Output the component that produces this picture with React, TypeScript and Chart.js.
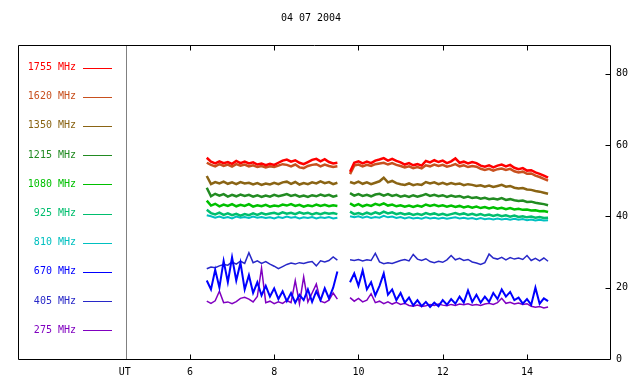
import { useEffect, useRef } from 'react';
import { Chart, registerables } from 'chart.js';

Chart.register(...registerables);

const TITLE = '04 07 2004';
const X_MIN = 1.92;
const X_MAX = 15.97;
const Y_MIN = 0;
const Y_MAX = 88;
const UT_POS = 4.48;
const X_TICKS = [6, 8, 10, 12, 14];
const Y_TICKS = [0, 20, 40, 60, 80];

const times = [
  6.4, 6.5, 6.6, 6.7, 6.8, 6.9, 7.0, 7.1, 7.2, 7.3, 7.4, 7.5, 7.6, 7.7, 7.8, 7.9,
  8.0, 8.1, 8.2, 8.3, 8.4, 8.5, 8.6, 8.7, 8.8, 8.9, 9.0, 9.1, 9.2, 9.3, 9.4, 9.5,
  9.65,
  9.8, 9.9, 10.0, 10.1, 10.2, 10.3, 10.4, 10.5, 10.6, 10.7, 10.8, 10.9,
  11.0, 11.1, 11.2, 11.3, 11.4, 11.5, 11.6, 11.7, 11.8, 11.9,
  12.0, 12.1, 12.2, 12.3, 12.4, 12.5, 12.6, 12.7, 12.8, 12.9,
  13.0, 13.1, 13.2, 13.3, 13.4, 13.5, 13.6, 13.7, 13.8, 13.9,
  14.0, 14.1, 14.2, 14.3, 14.4, 14.5,
];

const labels = ['1755 MHz', '1620 MHz', '1350 MHz', '1215 MHz', '1080 MHz', '925 MHz', '810 MHz', '670 MHz', '405 MHz', '275 MHz'];
const colors = ['#ff0000', '#c8501e', '#8a6414', '#228b22', '#00c000', '#00be6e', '#00c0c0', '#0000ff', '#2828c8', '#8000c0'];

const f1755 = [
  56.4, 55.3, 54.8, 55.4, 54.9, 55.2, 54.7, 55.5, 54.9, 55.3, 54.8, 55.1, 54.5, 54.8, 54.3, 54.7,
  54.4, 55.0, 55.6, 55.9, 55.3, 55.7, 55.0, 54.6, 55.2, 55.8, 56.1, 55.4, 56.0, 55.2, 54.8, 55.0,
  null,
  52.5, 55.0, 55.4, 54.8, 55.3, 54.9, 55.6, 55.9, 56.3, 55.6, 56.1, 55.5,
  55.1, 54.5, 54.9, 54.3, 54.6, 54.2, 55.5, 55.1, 55.7, 55.2,
  55.6, 54.9, 55.4, 56.2, 55.0, 55.3, 54.8, 55.2, 54.9, 54.2,
  53.9, 54.3, 53.7, 54.2, 54.5, 54.0, 54.4, 53.6, 53.2, 53.5,
  52.8, 52.9, 52.3, 51.9, 51.4, 50.8,
];
const f1620 = [
  55.0, 54.4, 54.0, 54.6, 54.1, 54.5, 53.9, 54.6, 54.2, 54.5, 54.0, 54.3, 53.8, 54.1, 53.7, 54.0,
  53.8, 54.2, 54.6, 54.4, 54.0, 54.5, 53.7, 53.5, 54.1, 54.4, 54.6, 54.0, 54.5, 54.1, 53.8, 54.0,
  null,
  51.8, 54.2, 54.5, 54.0, 54.4, 54.1, 54.6, 54.8, 55.0, 54.5, 54.9, 54.4,
  54.1, 53.7, 54.0, 53.5, 53.8, 53.4, 54.3, 54.0, 54.5, 54.1,
  54.4, 53.9, 54.2, 54.6, 54.0, 54.3, 53.8, 54.1, 53.9, 53.3,
  53.0, 53.3, 52.8, 53.2, 53.4, 53.0, 53.3, 52.6, 52.3, 52.5,
  51.9, 52.0, 51.4, 51.0, 50.5, 50.0,
];
const f1350 = [
  51.3, 49.0, 49.6, 49.2, 49.7, 49.1, 49.5, 49.0, 49.6, 49.2, 49.4, 48.9, 49.3, 48.8, 49.2, 48.9,
  49.4, 49.0, 49.5, 49.7, 49.1, 49.6, 48.9, 49.3, 49.0, 49.5, 49.2, 49.8, 49.3, 49.6, 49.0, 49.4,
  null,
  49.6, 49.2, 49.7, 49.1, 49.5, 49.0, 49.4, 49.8, 50.8, 49.5, 49.9, 49.3,
  49.0, 48.8, 49.2, 48.7, 49.0, 48.8, 49.6, 49.2, 49.5, 49.0,
  49.4, 48.9, 49.3, 49.0, 49.2, 48.7, 49.0, 48.8, 48.5, 48.7,
  48.3, 48.6, 48.2, 48.5, 48.8, 48.3, 48.5, 48.0, 47.8, 47.9,
  47.5, 47.4, 47.1, 46.9, 46.6, 46.3,
];
const f1215 = [
  48.0, 45.6, 46.3, 45.8, 46.2, 45.5, 46.0, 45.6, 46.1, 45.7, 46.0, 45.5, 45.9, 45.4, 45.8, 45.5,
  46.0, 45.6, 45.9, 46.2, 45.7, 46.0, 45.5, 45.8, 45.4, 45.9, 45.6, 46.1, 45.7, 46.0, 45.5, 45.8,
  null,
  46.5, 45.8, 46.2, 45.7, 46.0, 45.6, 46.1, 46.3, 45.8, 46.2, 45.7, 46.0,
  45.5, 45.8, 45.4, 45.9, 45.5, 45.8, 46.2, 45.7, 46.0, 45.6,
  45.9, 45.4, 45.8, 45.5, 45.7, 45.2, 45.5, 45.1, 45.3, 44.9,
  45.2, 44.8, 45.0, 44.7, 45.1, 44.6, 44.8, 44.5, 44.3, 44.4,
  44.0, 44.1, 43.8, 43.6, 43.4, 43.1,
];
const f1080 = [
  44.4, 43.0, 43.5, 42.8, 43.3, 42.9, 43.4, 42.8, 43.2, 42.9, 43.4, 42.7, 43.1, 42.8, 43.2, 42.7,
  43.0, 42.8, 43.3, 43.0, 43.4, 42.9, 43.2, 42.7, 43.1, 42.8, 43.3, 42.9, 43.2, 42.8, 43.1, 42.9,
  null,
  43.6, 42.9, 43.4, 42.8, 43.2, 42.9, 43.5, 43.1, 43.6, 43.0, 43.3, 42.8,
  43.1, 42.7, 43.0, 42.6, 43.0, 42.7, 43.3, 42.9, 43.2, 42.8,
  43.1, 42.7, 43.0, 42.6, 42.9, 42.5, 42.8, 42.4, 42.7, 42.3,
  42.6, 42.2, 42.5, 42.1, 42.4, 42.0, 42.3, 41.9, 42.1, 41.8,
  41.9, 41.6, 41.7, 41.4, 41.5, 41.2,
];
const f925 = [
  41.8, 40.9, 40.5, 41.0, 40.4, 40.8, 40.3, 40.7, 40.2, 40.6, 40.3, 40.8, 40.4, 40.9, 40.5, 40.8,
  41.0, 40.6, 41.1, 40.7, 41.0, 40.6, 41.1, 40.7, 41.0, 40.5, 40.9, 40.6, 41.0, 40.7, 40.9, 40.6,
  null,
  41.3, 40.6, 40.9, 40.5, 41.0, 40.6, 41.1, 40.7, 41.3, 40.8, 41.1, 40.6,
  40.9, 40.5, 40.8, 40.4, 40.7, 40.4, 40.9, 40.5, 40.8, 40.4,
  40.7, 40.3, 40.6, 40.9, 40.5, 40.8, 40.4, 40.7, 40.3, 40.6,
  40.2, 40.5, 40.1, 40.4, 40.0, 40.3, 39.9, 40.2, 39.8, 40.0,
  39.7, 39.9, 39.6, 39.8, 39.5, 39.6,
];
const f810 = [
  40.3, 40.0, 39.6, 39.9, 39.5, 39.8, 39.4, 39.9, 39.6, 39.8, 39.5, 39.9, 39.6, 39.8, 39.5, 39.7,
  39.4, 39.8, 39.5, 39.9, 39.6, 39.8, 39.4, 39.7, 39.5, 39.8, 39.4, 39.7, 39.5, 39.8, 39.4, 39.6,
  null,
  40.0, 39.7, 40.0, 39.6, 39.9, 39.5, 39.8, 39.6, 40.1, 39.7, 39.9, 39.5,
  39.8, 39.4, 39.7, 39.4, 39.6, 39.3, 39.7, 39.4, 39.6, 39.3,
  39.6, 39.3, 39.5, 39.7, 39.4, 39.6, 39.3, 39.5, 39.2, 39.5,
  39.2, 39.4, 39.1, 39.4, 39.1, 39.3, 39.0, 39.3, 39.0, 39.2,
  38.9, 39.1, 38.8, 39.0, 38.8, 38.9,
];
const f670 = [
  22.0, 19.5, 25.0, 20.0, 27.5, 21.5, 28.5, 22.0, 27.0, 19.5, 23.5, 18.5, 21.5, 17.8, 20.5, 17.5,
  19.8, 16.8, 19.0, 16.2, 18.5, 15.8, 18.0, 16.5, 19.5, 16.0, 19.0, 16.5, 19.8, 17.0, 20.0, 24.5,
  null,
  21.5, 24.0, 20.5, 24.8, 19.5, 21.5, 17.8, 20.5, 24.0, 18.0, 19.5, 16.5,
  18.5, 15.8, 17.2, 15.0, 16.5, 14.8, 16.0, 14.6, 15.8, 14.8,
  16.5, 15.2, 16.8, 15.5, 17.5, 15.8, 19.2, 16.0, 18.0, 15.8,
  17.5, 16.0, 18.5, 16.8, 19.5, 17.5, 18.8, 16.5, 17.2, 15.5,
  16.8, 15.2, 20.0, 15.5, 17.0, 16.2,
];
const f405 = [
  25.3, 25.8, 25.6, 26.1, 26.5, 26.3, 27.2, 26.6, 27.4, 26.8, 29.8, 27.0, 27.5, 26.8, 27.3, 26.6,
  26.0, 25.3, 25.9, 26.5, 26.9, 26.6, 27.0, 26.8, 27.1, 27.3, 26.1, 27.5, 27.2, 27.6, 28.6, 27.7,
  null,
  27.8, 27.6, 27.9, 27.5, 27.8, 27.6, 29.6, 27.2, 26.7, 27.0, 26.8, 27.2,
  27.6, 27.9, 27.5, 29.3, 28.0, 27.6, 28.1, 27.3, 27.0, 27.4,
  27.1, 27.8, 29.0, 27.8, 28.2, 27.6, 27.9, 27.2, 26.9, 26.5,
  27.0, 29.4, 28.3, 28.0, 28.5, 27.8, 28.4, 28.0, 28.3, 27.9,
  29.0, 27.6, 28.2, 27.5, 28.3, 27.4,
];
const f275 = [
  16.2, 15.6, 16.3, 19.0, 15.8, 16.0, 15.5, 16.1, 17.0, 17.3, 16.8, 16.0, 17.5, 25.5, 15.8, 16.2,
  15.5, 16.0, 15.6, 16.4, 15.8, 22.0, 15.5, 23.0, 16.0, 18.5, 21.0, 16.2, 15.8, 16.5, 18.5, 16.8,
  null,
  17.2, 16.2, 17.0, 16.0, 16.5, 18.3, 15.8, 16.2, 15.5, 16.0, 15.4, 15.9,
  15.3, 15.6, 15.0, 14.8, 15.1, 14.7, 14.9, 15.3, 15.0, 15.4,
  15.1, 14.9, 15.3, 15.0, 15.4, 15.2, 15.5, 15.1, 15.3, 15.0,
  15.4, 15.6, 15.3, 15.8, 17.0, 15.6, 15.9, 15.4, 15.7, 15.3,
  15.5, 14.8, 14.5, 14.7, 14.3, 14.6,
];

const seriesList = [f1755, f1620, f1350, f1215, f1080, f925, f810, f670, f405, f275];
const lineWidths = [2.5, 2.5, 2.5, 2.5, 2.5, 2.5, 2, 2, 1.5, 1.5];

const FONT = '10px "DejaVu Sans Mono", monospace';

const decorPlugin = {
  id: 'rstnDecor',
  beforeDatasetsDraw(chart: any) {
    const { ctx, chartArea, scales } = chart;
    const x = scales.x;
    const ux = Math.round(x.getPixelForValue(UT_POS)) + 0.5;
    ctx.save();
    ctx.strokeStyle = '#808080';
    ctx.lineWidth = 1;
    ctx.beginPath();
    ctx.moveTo(ux, chartArea.top);
    ctx.lineTo(ux, chartArea.bottom);
    ctx.stroke();
    ctx.restore();
  },
  afterDatasetsDraw(chart: any) {
    const { ctx, chartArea, scales } = chart;
    const { left, right, top, bottom } = chartArea;
    const x = scales.x;
    const y = scales.y;
    const L = Math.round(left) + 0.5;
    const R = Math.round(right) + 0.5;
    const T = Math.round(top) + 0.5;
    const B = Math.round(bottom) + 0.5;
    ctx.save();
    ctx.strokeStyle = '#000000';
    ctx.lineWidth = 1;
    ctx.beginPath();
    ctx.moveTo(L, T);
    ctx.lineTo(R, T);
    ctx.lineTo(R, B);
    ctx.lineTo(L, B);
    ctx.closePath();
    ctx.stroke();

    ctx.beginPath();
    X_TICKS.forEach((v) => {
      const px = Math.round(x.getPixelForValue(v)) + 0.5;
      ctx.moveTo(px, B);
      ctx.lineTo(px, B - 5);
      ctx.moveTo(px, T);
      ctx.lineTo(px, T + 5);
    });
    Y_TICKS.forEach((v) => {
      if (v === Y_MIN) return;
      const py = Math.round(y.getPixelForValue(v)) + 0.5;
      ctx.moveTo(R, py);
      ctx.lineTo(R - 5, py);
    });
    ctx.stroke();

    ctx.font = FONT;
    ctx.fillStyle = '#000000';
    ctx.textAlign = 'center';
    ctx.textBaseline = 'middle';
    X_TICKS.forEach((v) => {
      ctx.fillText(String(v), x.getPixelForValue(v), bottom + 13);
    });
    ctx.fillText('UT', x.getPixelForValue(UT_POS) - 1, bottom + 13);

    ctx.textAlign = 'left';
    Y_TICKS.forEach((v) => {
      ctx.fillText(String(v), right + 6, y.getPixelForValue(v));
    });

    ctx.textAlign = 'center';
    ctx.fillText(TITLE, (left + right) / 2 - 3, 18);

    labels.forEach((lab, i) => {
      const ly = 67.5 + i * 29.2;
      ctx.fillStyle = colors[i];
      ctx.textAlign = 'right';
      ctx.fillText(lab, left + 58, ly);
      ctx.strokeStyle = colors[i];
      ctx.lineWidth = 1;
      ctx.beginPath();
      ctx.moveTo(left + 65, Math.round(ly) + 0.5);
      ctx.lineTo(left + 94, Math.round(ly) + 0.5);
      ctx.stroke();
    });
    ctx.restore();
  },
};

export default function App() {
  const ref = useRef<HTMLCanvasElement | null>(null);

  useEffect(() => {
    document.body.style.margin = '0';
    document.body.style.background = '#ffffff';
    const canvas = ref.current;
    if (!canvas) return;
    const chart = new Chart(canvas, {
      type: 'line',
      data: {
        datasets: seriesList.map((s, i) => ({
          label: labels[i],
          data: times.map((t, j) => ({ x: t, y: s[j] })),
          borderColor: colors[i],
          backgroundColor: colors[i],
          borderWidth: lineWidths[i],
          pointRadius: 0,
          tension: 0,
          spanGaps: false,
          fill: false,
        })),
      },
      options: {
        responsive: false,
        animation: false,
        devicePixelRatio: 1,
        layout: { padding: { left: 18, top: 45, right: 30, bottom: 25 } },
        scales: {
          x: { type: 'linear', min: X_MIN, max: X_MAX, display: false },
          y: { type: 'linear', min: Y_MIN, max: Y_MAX, display: false },
        },
        plugins: {
          legend: { display: false },
          tooltip: { enabled: false },
          title: { display: false },
        },
        events: [],
      },
      plugins: [decorPlugin],
    } as any);
    return () => chart.destroy();
  }, []);

  return (
    <div style={{ width: 640, height: 384, background: '#fff' }}>
      <canvas ref={ref} width={640} height={384} style={{ display: 'block' }} />
    </div>
  );
}
